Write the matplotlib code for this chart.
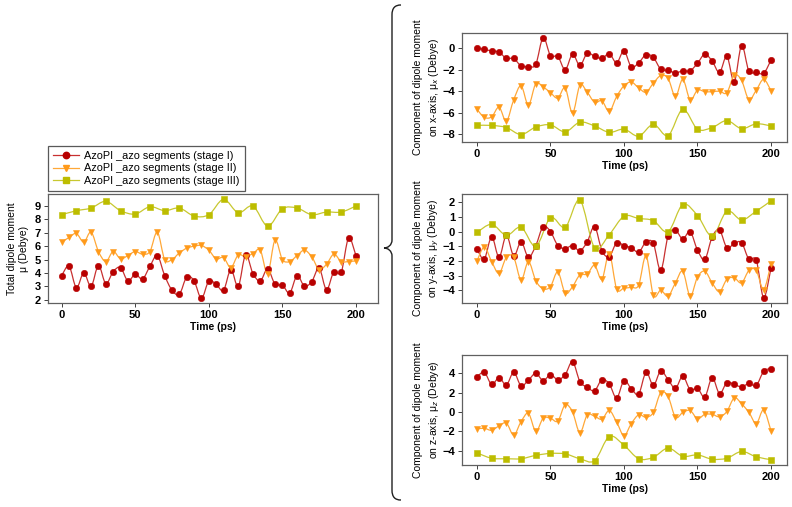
import numpy as np
import matplotlib
matplotlib.use("Agg")
import matplotlib.pyplot as plt
from matplotlib.path import Path
from matplotlib.patches import PathPatch
from matplotlib.lines import Line2D

plt.rcParams['font.family'] = ['Liberation Sans', 'DejaVu Sans']

t5 = list(range(0, 201, 5))
t10 = list(range(0, 201, 10))

labels = ["AzoPI _azo segments (stage I)", "AzoPI _azo segments (stage II)",
          "AzoPI _azo segments (stage III)"]

tot_1 = [3.8, 4.5, 2.9, 4.0, 3.0, 4.55, 3.2, 4.1, 4.4, 3.4, 3.9, 3.55, 4.5, 5.3, 3.8, 2.7, 2.4, 3.7, 3.4, 2.1,
         3.4, 3.15, 2.7, 4.25, 3.0, 5.35, 3.95, 3.4, 4.3, 3.15, 3.1, 2.5, 3.8, 3.0, 3.35, 4.35, 2.75, 4.1, 4.05, 6.6, 5.3]
tot_2 = [6.3, 6.65, 6.95, 6.3, 7.05, 5.6, 4.85, 5.6, 5.05, 5.3, 5.6, 5.4, 5.6, 7.05, 5.0, 5.0, 5.5, 5.85, 6.0, 6.05,
         5.7, 5.05, 5.15, 4.4, 5.35, 5.2, 5.45, 5.7, 3.95, 6.45, 5.0, 4.85, 5.3, 5.7, 5.2, 4.25, 4.65, 5.4, 4.85, 4.85, 4.9]
tot_3 = [8.35, 8.65, 8.85, 9.35, 8.65, 8.4, 8.95, 8.65, 8.85, 8.25, 8.35, 9.5, 8.5, 9.0, 7.5, 8.8, 8.85, 8.35, 8.55, 8.55, 9.0]

x_1 = [0.0, -0.1, -0.25, -0.35, -0.95, -0.95, -1.65, -1.7, -1.5, 1.0, -0.7, -0.75, -2.0, -0.55, -1.6, -0.45, -0.75, -0.95,
       -0.5, -1.35, -0.25, -1.75, -1.35, -0.6, -0.85, -1.95, -2.05, -2.3, -2.1, -2.1, -1.4, -0.55, -1.2, -2.25, -0.75,
       -3.1, 0.25, -2.15, -2.2, -2.35, -1.1]
x_2 = [-5.7, -6.45, -6.4, -5.5, -6.8, -4.8, -3.5, -5.3, -3.3, -3.6, -4.15, -4.65, -3.7, -6.05, -3.45, -4.1, -5.05, -4.9,
       -5.9, -4.5, -3.5, -3.15, -3.7, -4.1, -3.25, -2.55, -2.8, -4.5, -2.9, -4.8, -3.9, -4.05, -4.05, -4.0, -4.15, -2.5,
       -3.0, -4.8, -3.9, -2.9, -3.95]
x_3 = [-7.2, -7.2, -7.4, -8.05, -7.35, -7.15, -7.8, -6.9, -7.25, -7.85, -7.55, -8.2, -7.1, -8.15, -5.7, -7.55, -7.4,
       -6.75, -7.5, -7.05, -7.25]

y_1 = [-1.2, -1.85, -0.35, -1.75, -0.25, -1.65, -0.7, -1.75, -0.95, 0.35, 0.0, -0.95, -1.15, -0.95, -1.3, -0.7, 0.35,
       -1.3, -1.7, -0.75, -0.95, -1.1, -1.4, -0.7, -0.8, -2.65, -0.3, 0.1, -0.5, 0.0, -1.25, -1.9, -0.35, 0.1, -1.1,
       -0.8, -0.75, -1.9, -1.95, -4.5, -2.5]
y_2 = [-2.0, -1.05, -2.05, -2.85, -1.75, -1.75, -3.3, -2.05, -3.35, -3.9, -3.75, -2.75, -4.2, -3.75, -2.95, -2.9, -2.3,
       -3.25, -1.5, -3.9, -3.85, -3.8, -3.65, -1.65, -4.35, -4.0, -4.4, -3.5, -2.7, -4.4, -3.1, -2.7, -3.5, -4.1, -3.25,
       -3.15, -3.5, -2.65, -2.65, -3.95, -2.2]
y_3 = [-0.05, 0.5, -0.25, 0.3, -1.0, 0.95, 0.3, 2.15, -1.1, -0.2, 1.05, 0.9, 0.75, 0.0, 1.85, 1.1, -0.3, 1.4, 0.8, 1.4, 2.1]

z_1 = [3.65, 4.1, 2.85, 3.55, 2.8, 4.1, 2.7, 3.3, 4.0, 3.25, 3.85, 3.35, 3.85, 5.2, 3.15, 2.55, 2.2, 3.35, 2.9, 1.45,
       3.25, 2.4, 1.85, 4.1, 2.75, 4.25, 3.35, 2.45, 3.7, 2.3, 2.45, 1.55, 3.55, 1.9, 3.05, 2.85, 2.6, 2.95, 2.75, 4.2, 4.5]
z_2 = [-1.75, -1.7, -1.9, -1.45, -1.15, -2.4, -1.0, -0.15, -2.0, -0.65, -0.65, -0.95, 0.75, 0.0, -2.15, -0.3, -0.45,
       -0.75, 0.15, -1.05, -2.45, -1.2, -0.3, -0.55, -0.05, 2.0, 1.6, -0.55, -0.05, 0.15, -0.7, -0.25, -0.25, -0.5, 0.05,
       1.45, 0.85, -0.05, -1.2, 0.2, -1.95]
z_3 = [-4.25, -4.8, -4.85, -4.85, -4.5, -4.3, -4.35, -4.85, -5.05, -2.55, -3.45, -4.85, -4.7, -3.75, -4.6, -4.45, -4.9,
       -4.8, -4.1, -4.65, -4.95]

colors = ['#B80000', '#FF9A1A', '#BDBD00']
line_colors = ['#C83030', '#FFA838', '#C8C830']
markers = ['o', 'v', 's']
msizes = [4.6, 4.6, 4.0]

W, H = 792, 507
fig = plt.figure(figsize=(W / 100, H / 100), dpi=100)


def ax_rect(left, top, right, bottom):
    return [left / W, 1 - bottom / H, (right - left) / W, (bottom - top) / H]


def smooth_path(xs, ys):
    P = np.column_stack([xs, ys]).astype(float)
    n = len(P)
    verts = [P[0]]
    codes = [Path.MOVETO]
    for i in range(n - 1):
        p0 = P[i - 1] if i > 0 else P[i]
        p1 = P[i]
        p2 = P[i + 1]
        p3 = P[i + 2] if i + 2 < n else P[i + 1]
        c1 = p1 + (p2 - p0) / 6.0
        c2 = p2 - (p3 - p1) / 6.0
        verts += [c1, c2, p2]
        codes += [Path.CURVE4] * 3
    return Path(verts, codes)


def draw_series(ax, xs, ys, k):
    ax.add_patch(PathPatch(smooth_path(xs, ys), fill=False, edgecolor=line_colors[k], lw=0.9, zorder=2))
    ax.plot(xs, ys, linestyle='none', marker=markers[k], color=colors[k], markersize=msizes[k],
            markeredgewidth=0.4, zorder=3)


def style(ax, ylim, yticks, ylabel, ylabel_x, xlim, lsp):
    ax.set_xlim(*xlim)
    ax.set_ylim(*ylim)
    ax.set_xticks([0, 50, 100, 150, 200])
    ax.set_yticks(yticks)
    for s in ax.spines.values():
        s.set_color('#606060')
        s.set_linewidth(0.9)
    ax.tick_params(direction='out', length=3, width=0.7, color='#404040', labelsize=8, pad=2)
    for lab in ax.get_xticklabels() + ax.get_yticklabels():
        lab.set_fontweight('bold')
    ax.set_xlabel('Time (ps)', fontsize=7.5, fontweight='bold')
    ax.xaxis.set_label_coords(0.5, -0.17)
    ax.set_ylabel(ylabel, fontsize=7.5, linespacing=lsp)
    ax.yaxis.set_label_coords(ylabel_x, 0.5)


# left panel: total
ax0 = fig.add_axes(ax_rect(47.7, 194, 378, 303))
for k, (xs, ys) in enumerate([(t5, tot_1), (t5, tot_2), (t10, tot_3)]):
    draw_series(ax0, xs, ys, k)
style(ax0, (1.75, 9.9), [2, 3, 4, 5, 6, 7, 8, 9], 'Total dipole moment\nμ (Debye)', -0.058, (-9.5, 215), 1.2)

# right panels
axx = fig.add_axes(ax_rect(462, 33, 787, 142))
for k, (xs, ys) in enumerate([(t5, x_1), (t5, x_2), (t10, x_3)]):
    draw_series(axx, xs, ys, k)
style(axx, (-8.75, 1.43), [0, -2, -4, -6, -8], 'Component of dipole moment\non x-axis, μ$_x$ (Debye)', -0.066,
      (-10.2, 210.9), 1.35)

axy = fig.add_axes(ax_rect(462, 194, 787, 303))
for k, (xs, ys) in enumerate([(t5, y_1), (t5, y_2), (t10, y_3)]):
    draw_series(axy, xs, ys, k)
style(axy, (-4.87, 2.57), [2, 1, 0, -1, -2, -3, -4], 'Component of dipole moment\non y-axis, μ$_y$ (Debye)', -0.066,
      (-10.2, 210.9), 1.35)

axz = fig.add_axes(ax_rect(462, 355, 787, 465))
for k, (xs, ys) in enumerate([(t5, z_1), (t5, z_2), (t10, z_3)]):
    draw_series(axz, xs, ys, k)
style(axz, (-5.5, 5.9), [4, 2, 0, -2, -4], 'Component of dipole moment\non z-axis, μ$_z$ (Debye)', -0.066,
      (-10.2, 210.9), 1.35)

# legend
handles = [Line2D([], [], color=line_colors[k], lw=0.9, marker=markers[k], markerfacecolor=colors[k],
                  markeredgecolor=colors[k], markersize=msizes[k]) for k in range(3)]
leg = fig.legend(handles, labels, loc='lower left', bbox_to_anchor=(47.5 / W, 1 - 191 / H),
                 borderaxespad=0, fontsize=7.8, frameon=True, fancybox=False, handlelength=2.4,
                 labelspacing=0.2, borderpad=0.5, handletextpad=0.5)
leg.get_frame().set_edgecolor('#303030')
leg.get_frame().set_linewidth(0.9)

# curly brace
ovl = fig.add_axes([0, 0, 1, 1], zorder=-1)
ovl.set_xlim(0, W)
ovl.set_ylim(H, 0)
ovl.axis('off')
bx, tip = 392, 384
verts = [(401, 5), (395, 5), (bx, 8), (bx, 15),
         (bx, 240),
         (bx, 245), (388, 248), (tip, 248),
         (388, 248), (bx, 251), (bx, 256),
         (bx, 490),
         (bx, 497), (395, 500), (401, 500)]
codes = [Path.MOVETO, Path.CURVE4, Path.CURVE4, Path.CURVE4,
         Path.LINETO,
         Path.CURVE4, Path.CURVE4, Path.CURVE4,
         Path.CURVE4, Path.CURVE4, Path.CURVE4,
         Path.LINETO,
         Path.CURVE4, Path.CURVE4, Path.CURVE4]
ovl.add_patch(PathPatch(Path(verts, codes), fill=False, edgecolor='#202020', lw=1.0))

fig.savefig('out.png', dpi=100)
